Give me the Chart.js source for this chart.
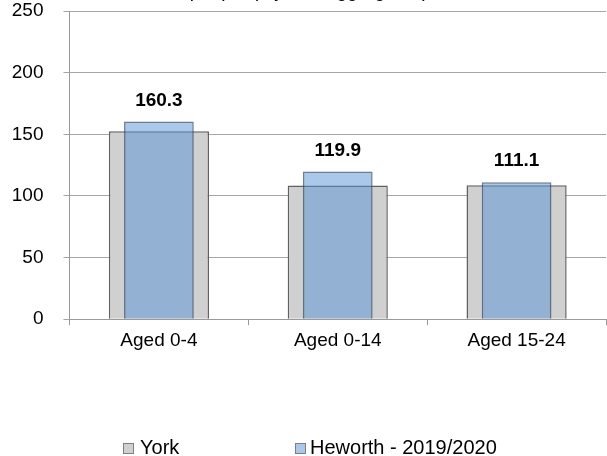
<!DOCTYPE html>
<html>
<head>
<meta charset="utf-8">
<script src="https://cdn.jsdelivr.net/npm/chart.js@4/dist/chart.umd.min.js"></script>
<style>
    body { margin: 0; background: #fff; }
    #wrap { position: relative; width: 607px; height: 456px; overflow: hidden; font-family: "Liberation Sans", Arial, sans-serif; }
    #chart { position: absolute; left: 0; top: 0; }
    .legend-item { position: absolute; top: 437px; font-size: 20px; line-height: 20px; color: #000; white-space: nowrap; }
    .legend-box { position: absolute; top: 443px; width: 9px; height: 9px; border: 1px solid #7f7f7f; }
</style>
</head>
<body>
<div id="wrap">
    <canvas id="chart" width="607" height="456"></canvas>
    <div class="legend-box" style="left:123px; background:#d0d0d0;"></div>
    <div class="legend-item" style="left:140px;">York</div>
    <div class="legend-box" style="left:295px; background:#a9c8ea;"></div>
    <div class="legend-item" style="left:310px;">Heworth - 2019/2020</div>
</div>
<script>
// Hospital admissions caused by injuries, rate per 10,000
const categories = ['Aged 0-4', 'Aged 0-14', 'Aged 15-24'];
const yorkValues = [152.5, 108.4, 108.6];
const heworthValues = [160.3, 119.9, 111.1];
const yTicks = [0, 50, 100, 150, 200, 250];
const titleLines = ['Hospital admissions caused by injuries in children and young', 'people (3 years aggregated)'];

const FONT = '"Liberation Sans", Arial, sans-serif';

// bold value labels above the Heworth bars
const valueLabels = {
    id: 'valueLabels',
    afterDatasetsDraw(chart) {
        const ctx = chart.ctx;
        const meta = chart.getDatasetMeta(1);
        ctx.save();
        ctx.font = 'bold 19px ' + FONT;
        ctx.fillStyle = '#000';
        ctx.textAlign = 'center';
        ctx.textBaseline = 'middle';
        meta.data.forEach((bar, i) => {
            ctx.fillText(heworthValues[i].toFixed(1), bar.x, bar.y - 21);
        });
        ctx.restore();
    }
};

new Chart(document.getElementById('chart'), {
    type: 'bar',
    data: {
        labels: categories,
        datasets: [
            {
                label: 'York',
                data: yorkValues,
                order: 2,
                grouped: false,
                backgroundColor: '#d0d0d0',
                borderColor: '#606060',
                borderWidth: 1.5,
                categoryPercentage: 1,
                barPercentage: 0.56
            },
            {
                label: 'Heworth - 2019/2020',
                data: heworthValues,
                order: 1,
                grouped: false,
                backgroundColor: 'rgba(83, 145, 213, 0.5)',
                borderColor: 'rgba(50, 70, 100, 0.7)',
                borderWidth: 1.5,
                categoryPercentage: 1,
                barPercentage: 0.39
            }
        ]
    },
    options: {
        responsive: false,
        animation: false,
        layout: { padding: { left: 12, right: 1, top: 0, bottom: 100 } },
        plugins: {
            legend: { display: false },
            tooltip: { enabled: false },
            title: {
                display: true,
                text: titleLines,
                color: '#000',
                font: { family: FONT, size: 19, weight: 'normal', lineHeight: 1.2 },
                padding: { top: -42, bottom: 7.4 }
            }
        },
        scales: {
            x: {
                grid: { drawOnChartArea: false, drawTicks: true, tickLength: 6, color: '#999', offset: true },
                border: { color: '#999', width: 1 },
                ticks: { color: '#000', font: { family: FONT, size: 19 }, padding: 4 }
            },
            y: {
                min: 0,
                max: 250,
                afterBuildTicks(axis) { axis.ticks = yTicks.map(v => ({ value: v })); },
                afterFit(axis) {
                    axis.width = 57.5;
                    axis.paddingTop = 0;
                },
                grid: { color: '#a6a6a6', tickLength: 6, lineWidth: 1 },
                border: { color: '#999', width: 1 },
                ticks: { color: '#000', font: { family: FONT, size: 19 }, padding: 20 }
            }
        }
    },
    plugins: [valueLabels]
});
</script>
</body>
</html>
